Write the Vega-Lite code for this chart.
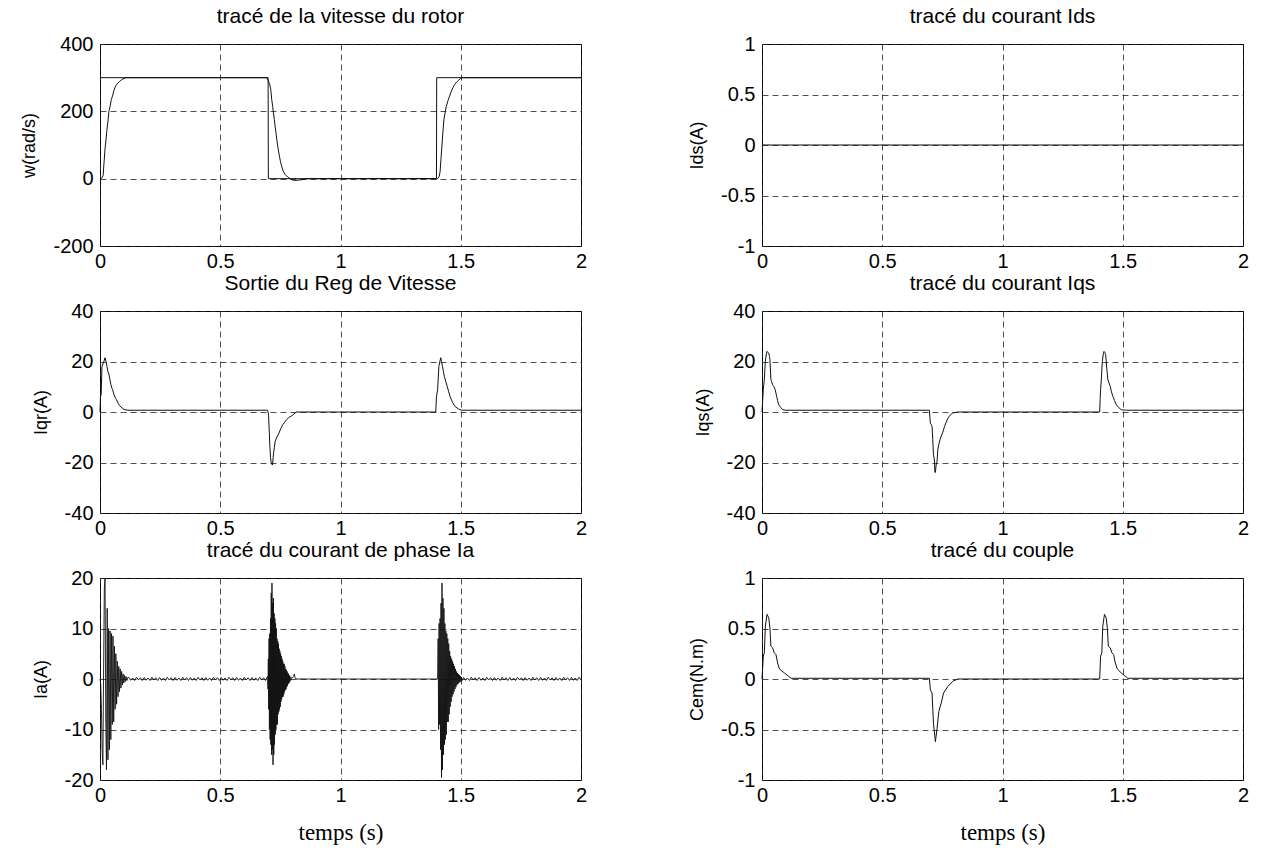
{
  "$schema": "https://vega.github.io/schema/vega-lite/v6.json",
  "background": "white",
  "padding": {"left": 20, "top": 5, "right": 15, "bottom": 5},
  "config": {
    "font": "Liberation Sans",
    "view": {"stroke": "black", "strokeWidth": 1},
    "axis": {"domain": false, "ticks": false, "labelFont": "Liberation Sans", "labelFontSize": 20, "labelColor": "black", "labelPadding": 7, "titleFont": "Liberation Sans", "titleFontSize": 18, "titleFontWeight": "normal", "titleColor": "black", "titlePadding": 14, "grid": true, "gridColor": "#222222", "gridDash": [6, 4], "gridWidth": 0.8, "labelFlush": false, "labelOverlap": false},
    "axisX": {"labelPadding": 5},
    "title": {"font": "Liberation Sans", "fontSize": 21, "fontWeight": "normal", "color": "black", "offset": 7, "anchor": "middle", "frame": "group"},
    "line": {"color": "#111111", "strokeWidth": 1, "clip": true}
  },
  "datasets": {
    "w": [
      {"t":0,"v":300,"s":"ref"},{"t":0.699,"v":300,"s":"ref"},{"t":0.7,"v":0,"s":"ref"},{"t":1.399,"v":0,"s":"ref"},{"t":1.4,"v":300,"s":"ref"},{"t":2,"v":300,"s":"ref"},
      {"t":0,"v":0,"s":"w"},{"t":0.005,"v":0,"s":"w"},{"t":0.01,"v":5,"s":"w"},{"t":0.013,"v":10,"s":"w"},{"t":0.017,"v":50,"s":"w"},{"t":0.021,"v":90,"s":"w"},{"t":0.025,"v":115,"s":"w"},{"t":0.028,"v":140,"s":"w"},{"t":0.033,"v":170,"s":"w"},{"t":0.037,"v":200,"s":"w"},{"t":0.042,"v":215,"s":"w"},{"t":0.047,"v":235,"s":"w"},{"t":0.052,"v":245,"s":"w"},{"t":0.058,"v":262,"s":"w"},{"t":0.065,"v":275,"s":"w"},{"t":0.072,"v":282,"s":"w"},{"t":0.08,"v":288,"s":"w"},{"t":0.09,"v":294,"s":"w"},{"t":0.1,"v":298,"s":"w"},{"t":0.11,"v":300,"s":"w"},{"t":0.69,"v":300,"s":"w"},{"t":0.695,"v":298,"s":"w"},{"t":0.7,"v":290,"s":"w"},{"t":0.705,"v":282,"s":"w"},{"t":0.71,"v":265,"s":"w"},{"t":0.714,"v":235,"s":"w"},{"t":0.718,"v":215,"s":"w"},{"t":0.721,"v":196,"s":"w"},{"t":0.725,"v":175,"s":"w"},{"t":0.728,"v":156,"s":"w"},{"t":0.732,"v":135,"s":"w"},{"t":0.735,"v":117,"s":"w"},{"t":0.74,"v":92,"s":"w"},{"t":0.746,"v":67,"s":"w"},{"t":0.75,"v":52,"s":"w"},{"t":0.755,"v":38,"s":"w"},{"t":0.762,"v":22,"s":"w"},{"t":0.769,"v":13,"s":"w"},{"t":0.78,"v":5,"s":"w"},{"t":0.79,"v":0,"s":"w"},{"t":0.8,"v":-4,"s":"w"},{"t":0.818,"v":-5,"s":"w"},{"t":0.84,"v":-3,"s":"w"},{"t":0.86,"v":0,"s":"w"},{"t":1.404,"v":0,"s":"w"},{"t":1.41,"v":6,"s":"w"},{"t":1.414,"v":20,"s":"w"},{"t":1.418,"v":60,"s":"w"},{"t":1.422,"v":100,"s":"w"},{"t":1.426,"v":140,"s":"w"},{"t":1.43,"v":175,"s":"w"},{"t":1.436,"v":200,"s":"w"},{"t":1.44,"v":215,"s":"w"},{"t":1.447,"v":232,"s":"w"},{"t":1.452,"v":242,"s":"w"},{"t":1.46,"v":258,"s":"w"},{"t":1.467,"v":270,"s":"w"},{"t":1.475,"v":280,"s":"w"},{"t":1.483,"v":287,"s":"w"},{"t":1.492,"v":293,"s":"w"},{"t":1.5,"v":298,"s":"w"},{"t":1.507,"v":300,"s":"w"},{"t":2,"v":300,"s":"w"}
    ],
    "ids": [{"t":0,"v":0},{"t":2,"v":0}],
    "iqr": [
      {"t":0,"v":0},{"t":0.002,"v":6},{"t":0.005,"v":7},{"t":0.008,"v":18},{"t":0.012,"v":19},{"t":0.016,"v":20},{"t":0.021,"v":21.5},{"t":0.025,"v":20},{"t":0.029,"v":18},{"t":0.033,"v":16},{"t":0.037,"v":15},{"t":0.041,"v":13},{"t":0.045,"v":11},{"t":0.049,"v":9.5},{"t":0.052,"v":9},{"t":0.058,"v":7},{"t":0.064,"v":5.5},{"t":0.068,"v":5},{"t":0.075,"v":3.5},{"t":0.082,"v":2.5},{"t":0.092,"v":1.6},{"t":0.1,"v":1.0},{"t":0.116,"v":0.7},{"t":0.696,"v":0.7},{"t":0.699,"v":0},{"t":0.701,"v":-1.5},{"t":0.704,"v":-8},{"t":0.706,"v":-13},{"t":0.709,"v":-18},{"t":0.712,"v":-20.3},{"t":0.717,"v":-21},{"t":0.72,"v":-18},{"t":0.722,"v":-16},{"t":0.725,"v":-14},{"t":0.728,"v":-11.7},{"t":0.735,"v":-10},{"t":0.744,"v":-8.4},{"t":0.752,"v":-6.5},{"t":0.76,"v":-5},{"t":0.768,"v":-4},{"t":0.776,"v":-3},{"t":0.785,"v":-2.2},{"t":0.8,"v":-1.3},{"t":0.81,"v":-0.5},{"t":0.816,"v":0},{"t":1.396,"v":0},{"t":1.399,"v":6},{"t":1.404,"v":9},{"t":1.409,"v":18},{"t":1.413,"v":20},{"t":1.417,"v":21.5},{"t":1.42,"v":20},{"t":1.424,"v":18},{"t":1.428,"v":16},{"t":1.432,"v":14},{"t":1.438,"v":12},{"t":1.444,"v":10},{"t":1.45,"v":8},{"t":1.456,"v":6},{"t":1.465,"v":4},{"t":1.475,"v":2.3},{"t":1.49,"v":1.2},{"t":1.504,"v":0.7},{"t":2,"v":0.7}
    ],
    "iqs": [
      {"t":0,"v":0},{"t":0.003,"v":5},{"t":0.0055,"v":8.8},{"t":0.0075,"v":11},{"t":0.0097,"v":12.8},{"t":0.012,"v":17},{"t":0.014,"v":20},{"t":0.018,"v":23},{"t":0.021,"v":24},{"t":0.025,"v":23.5},{"t":0.028,"v":23.3},{"t":0.031,"v":22},{"t":0.033,"v":20.7},{"t":0.035,"v":17},{"t":0.037,"v":12.8},{"t":0.04,"v":12},{"t":0.044,"v":10.8},{"t":0.05,"v":10},{"t":0.055,"v":8.8},{"t":0.058,"v":7.5},{"t":0.061,"v":6.2},{"t":0.065,"v":4.5},{"t":0.069,"v":2.9},{"t":0.078,"v":1.8},{"t":0.086,"v":0.9},{"t":0.1,"v":0.7},{"t":0.696,"v":0.7},{"t":0.7,"v":-4.4},{"t":0.704,"v":-5},{"t":0.707,"v":-5.7},{"t":0.71,"v":-11},{"t":0.713,"v":-16.9},{"t":0.717,"v":-19},{"t":0.719,"v":-23.9},{"t":0.721,"v":-23.9},{"t":0.724,"v":-21},{"t":0.728,"v":-19.5},{"t":0.731,"v":-15},{"t":0.735,"v":-12.9},{"t":0.74,"v":-11},{"t":0.745,"v":-9.6},{"t":0.752,"v":-8},{"t":0.759,"v":-5.7},{"t":0.766,"v":-4},{"t":0.773,"v":-2.4},{"t":0.783,"v":-1.2},{"t":0.793,"v":-0.4},{"t":0.814,"v":0},{"t":1.404,"v":0},{"t":1.406,"v":5},{"t":1.408,"v":9},{"t":1.411,"v":13},{"t":1.415,"v":20},{"t":1.419,"v":23},{"t":1.422,"v":24},{"t":1.426,"v":23.5},{"t":1.429,"v":22.7},{"t":1.432,"v":19},{"t":1.434,"v":16.8},{"t":1.438,"v":12.8},{"t":1.443,"v":11.5},{"t":1.448,"v":10.2},{"t":1.453,"v":8},{"t":1.459,"v":6.2},{"t":1.466,"v":4.5},{"t":1.473,"v":2.9},{"t":1.483,"v":1.8},{"t":1.494,"v":0.9},{"t":1.515,"v":0.7},{"t":2,"v":0.7}
    ],
    "cem": [
      {"t":0,"v":0},{"t":0.0055,"v":0.226},{"t":0.0097,"v":0.259},{"t":0.014,"v":0.524},{"t":0.021,"v":0.64},{"t":0.028,"v":0.607},{"t":0.033,"v":0.507},{"t":0.037,"v":0.325},{"t":0.044,"v":0.309},{"t":0.051,"v":0.259},{"t":0.058,"v":0.242},{"t":0.065,"v":0.159},{"t":0.072,"v":0.1},{"t":0.093,"v":0.06},{"t":0.121,"v":0.007},{"t":0.696,"v":0.007},{"t":0.7,"v":-0.106},{"t":0.707,"v":-0.139},{"t":0.713,"v":-0.438},{"t":0.721,"v":-0.62},{"t":0.728,"v":-0.488},{"t":0.735,"v":-0.322},{"t":0.745,"v":-0.239},{"t":0.755,"v":-0.139},{"t":0.773,"v":-0.073},{"t":0.793,"v":-0.023},{"t":0.814,"v":0},{"t":1.404,"v":0},{"t":1.408,"v":0.226},{"t":1.413,"v":0.259},{"t":1.417,"v":0.524},{"t":1.424,"v":0.64},{"t":1.431,"v":0.607},{"t":1.436,"v":0.507},{"t":1.44,"v":0.325},{"t":1.448,"v":0.309},{"t":1.455,"v":0.259},{"t":1.462,"v":0.242},{"t":1.469,"v":0.159},{"t":1.477,"v":0.1},{"t":1.494,"v":0.06},{"t":1.521,"v":0.007},{"t":2,"v":0.007}
    ],
    "ia": [
      {"t":0,"v":0},{"t":0.003,"v":-1},{"t":0.006,"v":-6},{"t":0.009,"v":-14},{"t":0.012,"v":-17},{"t":0.015,"v":2},{"t":0.018,"v":18},{"t":0.021,"v":20},{"t":0.024,"v":-8},{"t":0.027,"v":-18},{"t":0.03,"v":14},{"t":0.033,"v":-16},{"t":0.036,"v":10},{"t":0.039,"v":-14},{"t":0.042,"v":9.5},{"t":0.045,"v":-12},{"t":0.048,"v":9},{"t":0.051,"v":-9},{"t":0.054,"v":8.5},{"t":0.057,"v":-8.5},{"t":0.06,"v":6.5},{"t":0.063,"v":-6},{"t":0.066,"v":5},{"t":0.069,"v":-5},{"t":0.072,"v":3.5},{"t":0.075,"v":-3.5},{"t":0.078,"v":2.5},{"t":0.081,"v":-2.5},{"t":0.084,"v":2},{"t":0.087,"v":-1.8},{"t":0.09,"v":1.5},{"t":0.093,"v":-1.2},{"t":0.096,"v":1},{"t":0.099,"v":-0.8},{"t":0.102,"v":0.7},{"t":0.105,"v":-0.5},{"t":0.108,"v":0.5},{"t":0.112,"v":-0.3},{"t":0.116,"v":0.3},
      {"t":0.120,"v":0.3},{"t":0.128,"v":-0.25},{"t":0.136,"v":0.2},{"t":0.144,"v":-0.3},{"t":0.152,"v":0.35},{"t":0.160,"v":-0.2},{"t":0.168,"v":0.25},{"t":0.176,"v":-0.3},
      {"t":0.184,"v":0.3},{"t":0.192,"v":-0.25},{"t":0.200,"v":0.2},{"t":0.208,"v":-0.3},{"t":0.216,"v":0.35},{"t":0.224,"v":-0.2},{"t":0.232,"v":0.25},{"t":0.240,"v":-0.3},
      {"t":0.248,"v":0.3},{"t":0.256,"v":-0.25},{"t":0.264,"v":0.2},{"t":0.272,"v":-0.3},{"t":0.280,"v":0.35},{"t":0.288,"v":-0.2},{"t":0.296,"v":0.25},{"t":0.304,"v":-0.3},
      {"t":0.312,"v":0.3},{"t":0.320,"v":-0.25},{"t":0.328,"v":0.2},{"t":0.336,"v":-0.3},{"t":0.344,"v":0.35},{"t":0.352,"v":-0.2},{"t":0.360,"v":0.25},{"t":0.368,"v":-0.3},
      {"t":0.376,"v":0.3},{"t":0.384,"v":-0.25},{"t":0.392,"v":0.2},{"t":0.400,"v":-0.3},{"t":0.408,"v":0.35},{"t":0.416,"v":-0.2},{"t":0.424,"v":0.25},{"t":0.432,"v":-0.3},
      {"t":0.440,"v":0.3},{"t":0.448,"v":-0.25},{"t":0.456,"v":0.2},{"t":0.464,"v":-0.3},{"t":0.472,"v":0.35},{"t":0.480,"v":-0.2},{"t":0.488,"v":0.25},{"t":0.496,"v":-0.3},
      {"t":0.504,"v":0.3},{"t":0.512,"v":-0.25},{"t":0.520,"v":0.2},{"t":0.528,"v":-0.3},{"t":0.536,"v":0.35},{"t":0.544,"v":-0.2},{"t":0.552,"v":0.25},{"t":0.560,"v":-0.3},
      {"t":0.568,"v":0.3},{"t":0.576,"v":-0.25},{"t":0.584,"v":0.2},{"t":0.592,"v":-0.3},{"t":0.600,"v":0.35},{"t":0.608,"v":-0.2},{"t":0.616,"v":0.25},{"t":0.624,"v":-0.3},
      {"t":0.632,"v":0.3},{"t":0.640,"v":-0.25},{"t":0.648,"v":0.2},{"t":0.656,"v":-0.3},{"t":0.664,"v":0.35},{"t":0.672,"v":-0.2},{"t":0.680,"v":0.25},{"t":0.688,"v":-0.3},
      {"t":0.697,"v":0.5},{"t":0.6985,"v":-2},{"t":0.7,"v":4},{"t":0.7015,"v":-6},{"t":0.703,"v":8},{"t":0.7045,"v":-10},{"t":0.706,"v":9},{"t":0.7075,"v":-12},{"t":0.709,"v":12},{"t":0.7105,"v":-13},{"t":0.712,"v":17},{"t":0.7135,"v":-15},{"t":0.715,"v":19},{"t":0.7165,"v":-14},{"t":0.718,"v":15},{"t":0.7195,"v":-17},{"t":0.721,"v":16},{"t":0.7225,"v":-15},{"t":0.724,"v":13},{"t":0.7255,"v":-13},{"t":0.727,"v":12},{"t":0.7285,"v":-11},{"t":0.73,"v":11},{"t":0.7315,"v":-10},{"t":0.733,"v":10},{"t":0.7345,"v":-9},{"t":0.736,"v":8},{"t":0.7375,"v":-9},{"t":0.739,"v":7.5},{"t":0.7405,"v":-7},{"t":0.742,"v":7},{"t":0.7435,"v":-6.5},{"t":0.745,"v":6},{"t":0.7465,"v":-6},{"t":0.748,"v":5.5},{"t":0.7495,"v":-5.5},{"t":0.751,"v":5},{"t":0.7525,"v":-4.5},{"t":0.754,"v":4.5},{"t":0.7555,"v":-4},{"t":0.757,"v":4},{"t":0.7585,"v":-3.5},{"t":0.76,"v":3.5},{"t":0.7615,"v":-3.5},{"t":0.763,"v":3},{"t":0.7645,"v":-3},{"t":0.766,"v":3},{"t":0.7675,"v":-2.5},{"t":0.769,"v":2.5},{"t":0.7705,"v":-2.2},{"t":0.772,"v":2},{"t":0.7735,"v":-2},{"t":0.775,"v":1.8},{"t":0.7765,"v":-1.6},{"t":0.778,"v":1.5},{"t":0.7795,"v":-1.3},{"t":0.781,"v":1.2},{"t":0.7825,"v":-1},{"t":0.784,"v":1},{"t":0.7855,"v":-0.8},{"t":0.787,"v":0.7},{"t":0.7885,"v":-0.6},{"t":0.79,"v":0.5},{"t":0.793,"v":-0.3},{"t":0.796,"v":0.3},{"t":0.8,"v":0.2},{"t":0.805,"v":0.5},{"t":0.808,"v":1},{"t":0.811,"v":0.3},{"t":0.815,"v":0},{"t":1.404,"v":0},
      {"t":1.406,"v":8},{"t":1.408,"v":-10},{"t":1.41,"v":11},{"t":1.412,"v":-9},{"t":1.414,"v":12},{"t":1.416,"v":-14},{"t":1.418,"v":15},{"t":1.42,"v":-19.5},{"t":1.422,"v":19},{"t":1.424,"v":-18},{"t":1.426,"v":16},{"t":1.428,"v":-15},{"t":1.43,"v":14},{"t":1.432,"v":-13},{"t":1.434,"v":11},{"t":1.436,"v":-12},{"t":1.438,"v":9.5},{"t":1.44,"v":-11},{"t":1.442,"v":9},{"t":1.444,"v":-8.5},{"t":1.446,"v":8},{"t":1.448,"v":-8.5},{"t":1.45,"v":7},{"t":1.452,"v":-7},{"t":1.454,"v":5.5},{"t":1.456,"v":-5.5},{"t":1.458,"v":4.5},{"t":1.46,"v":-4.5},{"t":1.462,"v":4},{"t":1.464,"v":-3.5},{"t":1.466,"v":3.5},{"t":1.468,"v":-3},{"t":1.47,"v":3},{"t":1.472,"v":-2.5},{"t":1.474,"v":2.5},{"t":1.476,"v":-2},{"t":1.478,"v":2},{"t":1.48,"v":-1.6},{"t":1.482,"v":1.5},{"t":1.484,"v":-1.2},{"t":1.486,"v":1.2},{"t":1.488,"v":-1},{"t":1.49,"v":1},{"t":1.492,"v":-0.8},{"t":1.494,"v":0.8},{"t":1.496,"v":-0.6},{"t":1.498,"v":0.6},{"t":1.5,"v":-0.5},{"t":1.503,"v":0.4},{"t":1.506,"v":-0.3},
      {"t":1.512,"v":0.3},{"t":1.520,"v":-0.25},{"t":1.528,"v":0.2},{"t":1.536,"v":-0.3},{"t":1.544,"v":0.35},{"t":1.552,"v":-0.2},{"t":1.560,"v":0.25},{"t":1.568,"v":-0.3},
      {"t":1.576,"v":0.3},{"t":1.584,"v":-0.25},{"t":1.592,"v":0.2},{"t":1.600,"v":-0.3},{"t":1.608,"v":0.35},{"t":1.616,"v":-0.2},{"t":1.624,"v":0.25},{"t":1.632,"v":-0.3},
      {"t":1.640,"v":0.3},{"t":1.648,"v":-0.25},{"t":1.656,"v":0.2},{"t":1.664,"v":-0.3},{"t":1.672,"v":0.35},{"t":1.680,"v":-0.2},{"t":1.688,"v":0.25},{"t":1.696,"v":-0.3},
      {"t":1.704,"v":0.3},{"t":1.712,"v":-0.25},{"t":1.720,"v":0.2},{"t":1.728,"v":-0.3},{"t":1.736,"v":0.35},{"t":1.744,"v":-0.2},{"t":1.752,"v":0.25},{"t":1.760,"v":-0.3},
      {"t":1.768,"v":0.3},{"t":1.776,"v":-0.25},{"t":1.784,"v":0.2},{"t":1.792,"v":-0.3},{"t":1.800,"v":0.35},{"t":1.808,"v":-0.2},{"t":1.816,"v":0.25},{"t":1.824,"v":-0.3},
      {"t":1.832,"v":0.3},{"t":1.840,"v":-0.25},{"t":1.848,"v":0.2},{"t":1.856,"v":-0.3},{"t":1.864,"v":0.35},{"t":1.872,"v":-0.2},{"t":1.880,"v":0.25},{"t":1.888,"v":-0.3},
      {"t":1.896,"v":0.3},{"t":1.904,"v":-0.25},{"t":1.912,"v":0.2},{"t":1.920,"v":-0.3},{"t":1.928,"v":0.35},{"t":1.936,"v":-0.2},{"t":1.944,"v":0.25},{"t":1.952,"v":-0.3},
      {"t":1.960,"v":0.3},{"t":1.968,"v":-0.25},{"t":1.976,"v":0.2},{"t":1.984,"v":-0.3},{"t":1.992,"v":0.35},{"t":2.0,"v":-0.2}
    ]
  },
  "columns": 2,
  "spacing": {"row": 65, "column": 181},
  "bounds": "flush",
  "concat": [
    {
      "width": 481, "height": 202,
      "title": "tracé de la vitesse du rotor",
      "data": {"name": "w"},
      "mark": {"type": "line"},
      "encoding": {
        "x": {"field": "t", "type": "quantitative", "scale": {"domain": [0, 2], "nice": false}, "axis": {"values": [0, 0.5, 1, 1.5, 2], "labelExpr": "toString(datum.value)", "title": null}},
        "y": {"field": "v", "type": "quantitative", "scale": {"domain": [-200, 400], "nice": false}, "axis": {"values": [-200, 0, 200, 400], "labelExpr": "toString(datum.value)", "title": "w(rad/s)"}},
        "detail": {"field": "s"}
      }
    },
    {
      "width": 481, "height": 202,
      "title": "tracé du courant Ids",
      "data": {"name": "ids"},
      "mark": {"type": "line"},
      "encoding": {
        "x": {"field": "t", "type": "quantitative", "scale": {"domain": [0, 2], "nice": false}, "axis": {"values": [0, 0.5, 1, 1.5, 2], "labelExpr": "toString(datum.value)", "title": null}},
        "y": {"field": "v", "type": "quantitative", "scale": {"domain": [-1, 1], "nice": false}, "axis": {"values": [-1, -0.5, 0, 0.5, 1], "labelExpr": "toString(datum.value)", "title": "Ids(A)"}}
      }
    },
    {
      "width": 481, "height": 202,
      "title": "Sortie du Reg de Vitesse",
      "data": {"name": "iqr"},
      "mark": {"type": "line"},
      "encoding": {
        "x": {"field": "t", "type": "quantitative", "scale": {"domain": [0, 2], "nice": false}, "axis": {"values": [0, 0.5, 1, 1.5, 2], "labelExpr": "toString(datum.value)", "title": null}},
        "y": {"field": "v", "type": "quantitative", "scale": {"domain": [-40, 40], "nice": false}, "axis": {"values": [-40, -20, 0, 20, 40], "labelExpr": "toString(datum.value)", "title": "Iqr(A)"}}
      }
    },
    {
      "width": 481, "height": 202,
      "title": "tracé du courant Iqs",
      "data": {"name": "iqs"},
      "mark": {"type": "line"},
      "encoding": {
        "x": {"field": "t", "type": "quantitative", "scale": {"domain": [0, 2], "nice": false}, "axis": {"values": [0, 0.5, 1, 1.5, 2], "labelExpr": "toString(datum.value)", "title": null}},
        "y": {"field": "v", "type": "quantitative", "scale": {"domain": [-40, 40], "nice": false}, "axis": {"values": [-40, -20, 0, 20, 40], "labelExpr": "toString(datum.value)", "title": "Iqs(A)"}}
      }
    },
    {
      "width": 481, "height": 202,
      "title": "tracé du courant de phase Ia",
      "data": {"name": "ia"},
      "mark": {"type": "line", "strokeWidth": 0.9},
      "encoding": {
        "x": {"field": "t", "type": "quantitative", "scale": {"domain": [0, 2], "nice": false}, "axis": {"values": [0, 0.5, 1, 1.5, 2], "labelExpr": "toString(datum.value)", "title": "temps (s)", "titleFont": "Liberation Serif", "titleFontSize": 23, "titlePadding": 16}},
        "y": {"field": "v", "type": "quantitative", "scale": {"domain": [-20, 20], "nice": false}, "axis": {"values": [-20, -10, 0, 10, 20], "labelExpr": "toString(datum.value)", "title": "Ia(A)"}}
      }
    },
    {
      "width": 481, "height": 202,
      "title": "tracé du couple",
      "data": {"name": "cem"},
      "mark": {"type": "line"},
      "encoding": {
        "x": {"field": "t", "type": "quantitative", "scale": {"domain": [0, 2], "nice": false}, "axis": {"values": [0, 0.5, 1, 1.5, 2], "labelExpr": "toString(datum.value)", "title": "temps (s)", "titleFont": "Liberation Serif", "titleFontSize": 23, "titlePadding": 16}},
        "y": {"field": "v", "type": "quantitative", "scale": {"domain": [-1, 1], "nice": false}, "axis": {"values": [-1, -0.5, 0, 0.5, 1], "labelExpr": "toString(datum.value)", "title": "Cem(N.m)"}}
      }
    }
  ]
}
